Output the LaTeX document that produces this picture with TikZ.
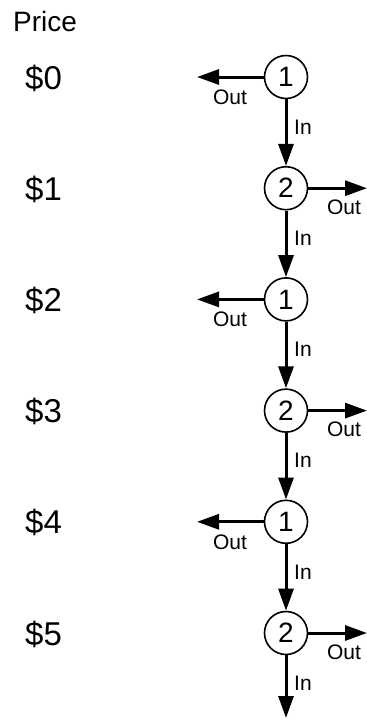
\documentclass[tikz,border=0pt]{standalone}
\usepackage{fontspec}
\setmainfont{Liberation Sans}
\usetikzlibrary{arrows.meta}
\tikzset{
  flow/.style={line width=3pt, -{Triangle[length=22pt,width=15pt]}},
  stage/.style={circle, draw, line width=1.6pt, minimum size=43pt, inner sep=0pt,
                font=\fontsize{28}{28}\selectfont},
  price/.style={anchor=base west, inner sep=0pt, font=\fontsize{33}{33}\selectfont},
  small/.style={inner sep=0pt, font=\fontsize{21}{21}\selectfont},
}
\begin{document}
\begin{tikzpicture}[x=1pt,y=-1pt]
\useasboundingbox (0,0) rectangle (367,721);
\node[anchor=base west, inner sep=0pt, font=\fontsize{28}{28}\selectfont] (title) at (13,31.5) {Price};
% price levels and alternating stages
\foreach \k/\lab in {0/1,1/2,2/1,3/2,4/1,5/2} {
  \pgfmathsetmacro{\yy}{77+111.2*\k}
  \node[price] (p\k) at (25,\yy+12) {\$\k};
  \node[stage] (s\k) at (286,\yy) {\lab};
}
% outputs to the left for stage 1, to the right for stage 2
\foreach \k in {0,2,4} {
  \pgfmathsetmacro{\yy}{77+111.2*\k}
  \coordinate (o\k) at (197,\yy);
  \draw[flow] (s\k.west) -- (o\k);
  \node[small] (ol\k) at (230,\yy+20) {Out};
}
\foreach \k in {1,3,5} {
  \pgfmathsetmacro{\yy}{77+111.2*\k}
  \coordinate (o\k) at (367,\yy);
  \draw[flow] (s\k.east) -- (o\k);
  \node[small] (ol\k) at (344,\yy+19) {Out};
}
% inputs flowing down the chain
\foreach \k/\n in {0/1,1/2,2/3,3/4,4/5} {
  \draw[flow] (s\k.south) -- (s\n.north);
}
\coordinate (end) at (286,718);
\draw[flow] (s5.south) -- (end);
\foreach \k in {0,...,5} {
  \pgfmathsetmacro{\yy}{77+111.2*\k}
  \node[small, anchor=west] (il\k) at (294,\yy+50) {In};
}
\end{tikzpicture}
\end{document}
